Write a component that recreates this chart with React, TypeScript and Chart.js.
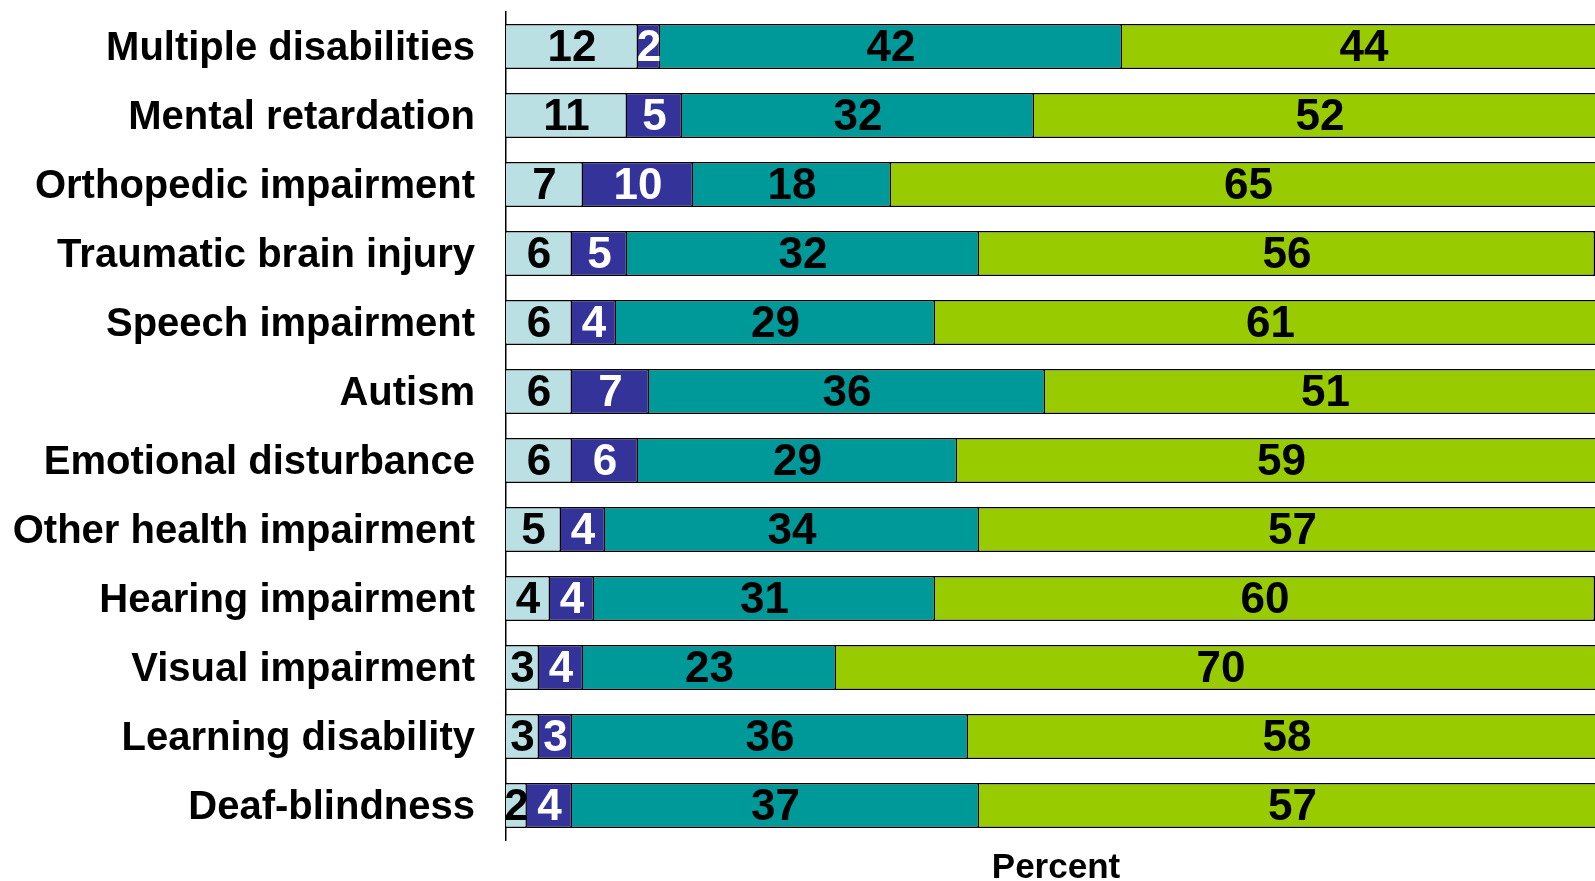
import React, { useEffect, useRef } from "react";
import { Chart, registerables } from "chart.js";

Chart.register(...registerables);

const categories = [
  "Multiple disabilities",
  "Mental retardation",
  "Orthopedic impairment",
  "Traumatic brain injury",
  "Speech impairment",
  "Autism",
  "Emotional disturbance",
  "Other health impairment",
  "Hearing impairment",
  "Visual impairment",
  "Learning disability",
  "Deaf-blindness",
];

const seriesA = [12, 11, 7, 6, 6, 6, 6, 5, 4, 3, 3, 1.9];
const seriesB = [2, 5, 10, 5, 4, 7, 6, 4, 4, 4, 3, 4.1];
const seriesC = [42, 32, 18, 32, 29, 36, 29, 34, 31, 23, 36, 37];
const seriesD = [44, 52, 65, 56, 61, 51, 59, 57, 60, 70, 58, 57];

const seriesColors = ["#BBE0E3", "#333399", "#009999", "#99CC00"];
const labelColors = ["#000000", "#FFFFFF", "#000000", "#000000"];

const FONT = "'Liberation Sans', Arial, Helvetica, sans-serif";

const valueLabels = {
  id: "valueLabels",
  afterDatasetsDraw(chart: any) {
    const ctx = chart.ctx;
    ctx.save();
    ctx.font = `bold 44px ${FONT}`;
    ctx.textAlign = "center";
    ctx.textBaseline = "middle";
    chart.data.datasets.forEach((ds: any, di: number) => {
      const meta = chart.getDatasetMeta(di);
      meta.data.forEach((el: any, i: number) => {
        const v = ds.data[i];
        const cx = (el.x + el.base) / 2;
        ctx.fillStyle = labelColors[di];
        ctx.fillText(String(Math.round(v)), cx, el.y + 2);
      });
    });
    ctx.restore();
  },
};

export default function App() {
  const ref = useRef<HTMLCanvasElement | null>(null);
  useEffect(() => {
    if (!ref.current) return;
    const data = [seriesA, seriesB, seriesC, seriesD];
    const chart = new Chart(ref.current, {
      type: "bar",
      data: {
        labels: categories,
        datasets: data.map((d, i) => ({
          label: "S" + i,
          data: d,
          backgroundColor: seriesColors[i],
          borderColor: "#000000",
          borderWidth: 1.5,
          barPercentage: 45 / 69,
          categoryPercentage: 1,
        })),
      },
      options: {
        indexAxis: "y",
        responsive: false,
        animation: false,
        layout: { padding: { top: 12, left: 0, right: 0, bottom: 0 } },
        plugins: {
          legend: { display: false },
          tooltip: { enabled: false },
        },
        scales: {
          x: {
            stacked: true,
            min: 0,
            max: 100,
            grid: { display: false, drawTicks: false },
            border: { display: false },
            ticks: { display: false },
            title: {
              display: true,
              text: "Percent",
              color: "#000000",
              font: { family: FONT, size: 35, weight: "bold", lineHeight: 0.6 },
              padding: { top: 18, bottom: 2 },
            },
          },
          y: {
            stacked: true,
            grid: { display: false, drawTicks: false },
            border: { display: true, color: "#000000", width: 1.5 },
            ticks: {
              color: "#000000",
              padding: 31,
              labelOffset: 2,
              font: { family: FONT, size: 40, weight: "bold" },
            },
            afterFit(scale: any) {
              scale.width = 506;
              scale.paddingTop = 0;
              scale.paddingBottom = 0;
            },
          },
        },
      },
      plugins: [valueLabels],
    } as any);
    return () => chart.destroy();
  }, []);
  return (
    <div
      style={{
        position: "absolute",
        left: 0,
        top: 0,
        width: 1595,
        height: 881,
        overflow: "hidden",
        background: "#ffffff",
      }}
    >
      <canvas ref={ref} width={1606} height={881} style={{ display: "block" }} />
    </div>
  );
}
